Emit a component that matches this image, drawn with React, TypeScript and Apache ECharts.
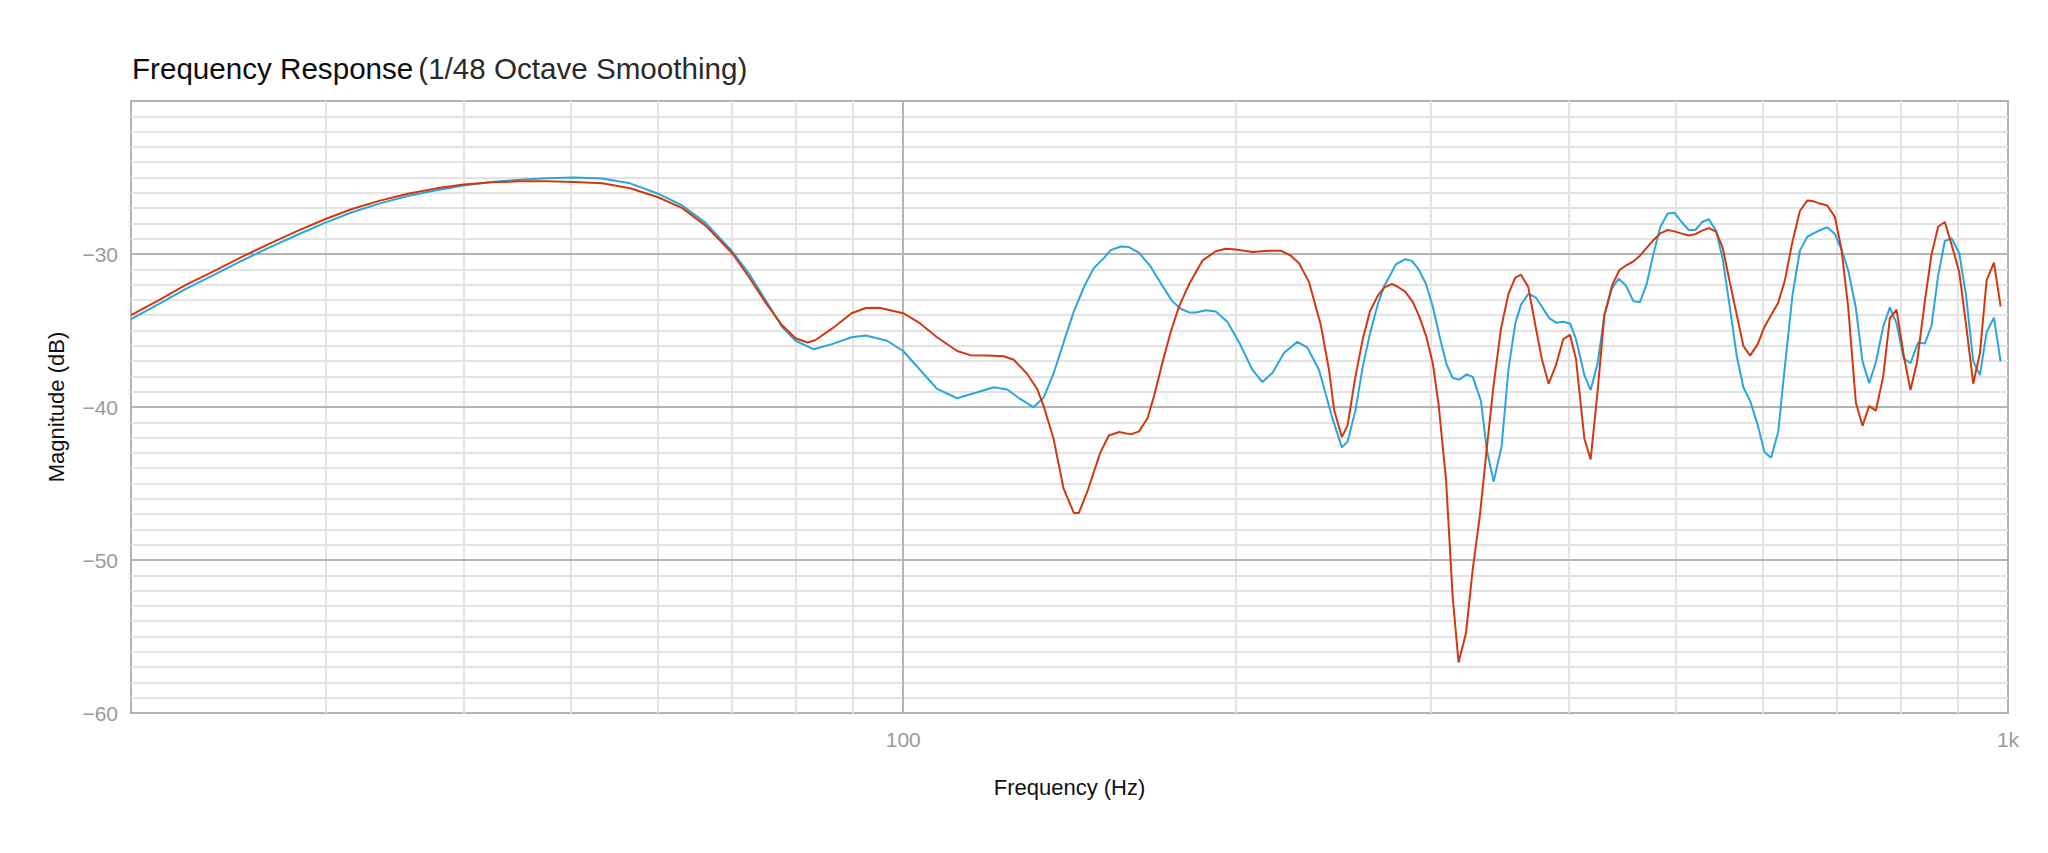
import React, { useEffect, useRef } from "react";
import * as echarts from "echarts";

// Frequency (Hz) / magnitude (dB) readings, red curve
const redFreq = [
  20, 21.2, 22.4, 23.8, 25.2, 26.7, 28.3, 30, 31.7, 33.6, 35.6, 37.8, 40, 42.4, 44.9, 47.6, 50.4, 53.4, 56.6,
  60, 63.1, 66.2, 70, 72.5, 75.1, 77.7, 79.9, 81.9,
  83.3, 86.2, 89.8, 92.5, 95.1, 100, 103.6, 107.3, 111.9, 115, 119.1, 123.3, 125.9, 129.4, 132.2, 134, 136.8,
  139.7, 142.7, 144.2, 146.7, 150.8, 153.5, 156.9, 160.7, 163.5, 166.4, 168.7, 171.6, 174.6, 177.7, 181.5,
  186.6, 191.8, 195.9, 200, 207.1, 214.4, 219.7, 224.3, 228.2, 233, 238.8, 242.9, 245.5, 249.5, 252.5, 256.6,
  260.6, 264.5, 268.8, 272.6, 277, 280.3, 284.8, 289.2, 293.2, 297.3, 301.5, 305.2, 310, 314.3, 318.2, 323.1,
  327.7, 332.7, 337.4, 342.1, 347.6, 353, 358.1, 362.4, 368, 373.4, 378.6, 383.9, 389.9, 395.8, 401.4, 406.4,
  413.6, 419, 425.2, 431.2, 438.1, 444.8, 451.7, 458, 464.4, 470.9, 477.8, 484.5, 492, 498.9, 505.9, 514.1,
  521.2, 528.6, 536, 544.2, 551.8, 559.6, 568.2, 576.1, 584.2, 593.6, 601.9, 610.3, 619.4, 628.1, 638.3,
  648.1, 658.1, 667.2, 676.6, 686.1, 697.1, 706.8, 716.8, 728.3, 738.4, 748.8, 759.2, 770.9, 781.7, 792.7,
  804.9, 816.1, 827.5, 840.9, 852.6, 864.6, 876.7, 890.8, 903.3, 916, 930.1, 943.2, 956.4, 971.1, 984.7,
];
const redDb = [
  -34.0, -33.01, -32.04, -31.1, -30.19, -29.32, -28.49, -27.71, -27.06, -26.51, -26.06, -25.71, -25.46, -25.31,
  -25.25, -25.25, -25.29, -25.37, -25.7,
  -26.29, -27.0, -28.13, -29.93, -31.5, -33.2, -34.66, -35.51, -35.78,
  -35.62, -34.88, -33.87, -33.53, -33.51, -33.87, -34.54, -35.44,
  -36.34, -36.61, -36.64, -36.68, -36.91, -37.81, -38.82, -39.94, -42.08, -45.34, -46.92, -46.92, -45.57,
  -42.98, -41.86, -41.63, -41.79, -41.59, -40.73, -39.27, -37.13, -35.11, -33.42, -31.96, -30.43, -29.82,
  -29.66, -29.71, -29.87, -29.78, -29.78, -30.11, -30.61, -31.84, -34.66, -37.58, -40.2, -41.97, -41.18,
  -38.03, -35.56, -33.76, -32.74, -32.18, -31.96, -32.14, -32.47, -33.13, -34.09, -35.33, -37.13, -39.83,
  -44.78, -52.43, -56.7, -54.79, -50.63, -47.03, -42.76, -38.71, -34.88, -32.63, -31.55, -31.35, -32.18,
  -34.66, -36.91, -38.48, -37.24, -35.56, -35.29, -36.86, -42.08, -43.43, -38.93, -33.98, -32.07, -31.06,
  -30.72, -30.49, -30.11, -29.6, -29.08, -28.65, -28.43, -28.52, -28.65, -28.79, -28.7, -28.47, -28.31,
  -28.54, -29.6, -31.73, -33.98, -36.01, -36.64, -35.89, -34.77, -34.0, -33.19, -31.73, -29.15, -27.19,
  -26.51, -26.56, -26.72, -26.83, -27.57, -29.71, -33.53, -39.72, -41.23, -39.94, -40.24, -38.03, -34.21,
  -33.64, -36.68, -38.89, -37.02, -33.08, -30.04, -28.2, -27.91, -29.6, -31.17, -34.54, -38.48, -36.46,
  -31.73, -30.56, -33.42,
];

// Frequency (Hz) / magnitude (dB) readings, blue curve
const blueFreq = [
  20, 21.2, 22.4, 23.8, 25.2, 26.7, 28.3, 30, 31.7, 33.6, 35.6, 37.8, 40, 42.4, 44.9, 47.6, 50.4, 53.4, 56.6,
  60, 63.1, 66.2, 70, 72.5, 75.1, 77.7, 79.9, 83,
  86.2, 89.8, 92.5, 96.7, 100, 103.6, 107.3, 111.9, 116.7, 120.8, 124.2, 127.7, 131.2, 134, 136.8, 139.7,
  142.7, 145.7, 148.7, 151.9, 154.1, 157.4, 160.1, 163.5, 167.5, 171.6, 175.2, 178.3, 181.5, 184, 187.9,
  191.8, 196.5, 201.4, 207.1, 211.4, 215.9, 221.2, 227.4, 232.2, 237.9, 244.6, 249.5, 252.5, 256.6, 260.6,
  264.5, 268.8, 272.6, 279.3, 284.8, 288.7, 292.8, 297.3, 301.5, 305.7, 310.4, 314.3, 318.7, 323.6, 327.7,
  333.4, 337.4, 342.3, 348.1, 353, 358.1, 362.4, 368.2, 374, 379.2, 384.5, 390.4, 395.8, 401.4, 406.4, 413.6,
  419, 425.2, 431.2, 438.1, 444.2, 451.1, 458, 464.4, 470.9, 477.8, 484.5, 492, 498.9, 505.9, 514.1, 521.2,
  528.6, 536, 544.2, 551.8, 559.6, 568.2, 576.1, 584.2, 593.6, 601.9, 610.3, 619.4, 628.1, 638.3, 648.1,
  658.1, 667.2, 676.6, 686.1, 697.1, 706.8, 716.8, 728.3, 738.4, 748.8, 759.2, 770.9, 781.7, 792.7, 804.9,
  816.1, 829.2, 840.9, 852.6, 864.6, 876.7, 889, 903.3, 916, 930.1, 943.2, 956.4, 971.1, 984.7,
];
const blueDb = [
  -34.25, -33.26, -32.29, -31.35, -30.44, -29.57, -28.74, -27.95, -27.27, -26.69, -26.21, -25.83, -25.53,
  -25.3, -25.15, -25.05, -25.0, -25.06, -25.38,
  -26.06, -26.83, -27.95, -29.82, -31.28, -33.04, -34.77, -35.67, -36.23,
  -35.89, -35.44, -35.33, -35.67, -36.34, -37.58,
  -38.82, -39.43, -39.04, -38.71, -38.86, -39.49, -40.01, -39.38, -37.81, -35.78, -33.76, -32.18, -30.94,
  -30.27, -29.75, -29.51, -29.55, -29.93, -30.83, -32.07, -33.08, -33.58, -33.82, -33.82, -33.67, -33.76,
  -34.43, -35.78, -37.58, -38.37, -37.76, -36.46, -35.74, -36.12, -37.58, -40.73, -42.64, -42.26, -40.24,
  -37.36, -35.22, -33.31, -32.07, -30.67, -30.34, -30.45, -31.01, -31.96, -33.42, -35.33, -37.24, -38.1,
  -38.21, -37.87, -38.03, -39.6, -42.76, -44.89, -42.53, -37.58, -34.54, -33.31, -32.59, -32.86, -33.53,
  -34.21, -34.5, -34.43, -34.54, -35.56, -37.92, -38.89, -37.13, -33.98, -32.25, -31.62, -32.07, -33.08,
  -33.15, -31.96, -29.93, -28.24, -27.35, -27.3, -27.86, -28.43, -28.43, -27.91, -27.73, -28.47, -30.34,
  -33.31, -36.68, -38.71, -39.6, -41.18, -42.94, -43.32, -41.63, -37.36, -32.63, -29.78, -28.88, -28.63,
  -28.43, -28.25, -28.7, -29.71, -31.06, -33.53, -37.02, -38.44, -37.09, -34.77, -33.49, -34.54, -36.86,
  -37.13, -35.78, -35.85, -34.7, -31.4, -29.15, -28.97, -29.93, -32.63, -37.02, -37.92, -35.11, -34.16,
  -37.02,
];

// Axis ticks and grid positions
const xTickValues = [100, 1000];
const xTickLabels = ["100", "1k"];
const xMinorGrid = [30, 40, 50, 60, 70, 80, 90, 200, 300, 400, 500, 600, 700, 800, 900];
const xMajorGrid = [100];
const yMajorGrid = [-30, -40, -50];
const yTickValues = [-60, -50, -40, -30];
const yTickLabels = ["\u221260", "\u221250", "\u221240", "\u221230"];

const FONT = "'Liberation Sans', Arial, Helvetica, sans-serif";
const RED = "#d2380f";
const BLUE = "#2aa5dd";
const MINOR = "#e3e3e3";
const MAJOR = "#b4b4b4";

export default function App() {
  const ref = useRef<HTMLDivElement>(null);

  useEffect(() => {
    const chart = echarts.init(ref.current!, null, { renderer: "svg" });
    const pair = (fs: number[], ds: number[]) => fs.map((f, i) => [f, ds[i]]);

    const gridLines = [
      ...xMinorGrid.map((v) => ({ xAxis: v, lineStyle: { color: MINOR, width: 2, type: "solid" } })),
      ...xMajorGrid.map((v) => ({ xAxis: v, lineStyle: { color: MAJOR, width: 2, type: "solid" } })),
      ...yMajorGrid.map((v) => ({ yAxis: v, lineStyle: { color: MAJOR, width: 2, type: "solid" } })),
    ];

    chart.setOption({
      animation: false,
      backgroundColor: "#ffffff",
      title: {
        text: "{a|Frequency Response} {b|(1/48 Octave Smoothing)}",
        left: 127,
        top: 48,
        textStyle: {
          rich: {
            a: { fontFamily: FONT, fontSize: 29.6, color: "#0d0d0d", fontWeight: "normal" },
            b: { fontFamily: FONT, fontSize: 29.6, color: "#2a2a2a", fontWeight: "normal" },
          },
        },
      },
      grid: {
        left: 131,
        right: 40,
        top: 101,
        bottom: 140,
        show: true,
        borderColor: MAJOR,
        borderWidth: 2,
        backgroundColor: "transparent",
      },
      xAxis: {
        type: "log",
        logBase: 10,
        min: 20,
        max: 1000,
        name: "Frequency (Hz)",
        nameLocation: "middle",
        nameGap: 63,
        nameTextStyle: { fontFamily: FONT, fontSize: 22, color: "#111111" },
        axisLine: { show: false },
        axisTick: { show: false },
        splitLine: { show: false },
        axisLabel: {
          showMinLabel: false,
          interval: 0,
          margin: 16,
          fontFamily: FONT,
          fontSize: 21,
          color: "#9a9a9a",
          formatter: (v: number) => {
            const i = xTickValues.indexOf(Math.round(v));
            return i >= 0 ? xTickLabels[i] : "";
          },
        },
      },
      yAxis: {
        type: "value",
        min: -60,
        max: -20,
        interval: 10,
        name: "Magnitude (dB)",
        nameLocation: "middle",
        nameGap: 64,
        nameTextStyle: { fontFamily: FONT, fontSize: 22, color: "#111111" },
        axisLine: { show: false },
        axisTick: { show: false },
        splitLine: { show: false },
        minorTick: { show: false, splitNumber: 10 },
        minorSplitLine: { show: true, lineStyle: { color: MINOR, width: 2 } },
        axisLabel: {
          showMaxLabel: false,
          margin: 13,
          fontFamily: FONT,
          fontSize: 21,
          color: "#9a9a9a",
          formatter: (v: number) => {
            const i = yTickValues.indexOf(Math.round(v));
            return i >= 0 ? yTickLabels[i] : "";
          },
        },
      },
      series: [
        {
          name: "Blue",
          type: "line",
          data: pair(blueFreq, blueDb),
          showSymbol: false,
          symbol: "none",
          lineStyle: { color: BLUE, width: 2 },
          itemStyle: { color: BLUE },
          z: 3,
          markLine: {
            z: 1,
            silent: true,
            symbol: ["none", "none"],
            label: { show: false },
            emphasis: { disabled: true },
            animation: false,
            data: gridLines,
          },
        },
        {
          name: "Red",
          type: "line",
          data: pair(redFreq, redDb),
          showSymbol: false,
          symbol: "none",
          lineStyle: { color: RED, width: 2 },
          itemStyle: { color: RED },
          z: 4,
        },
      ],
    });
    return () => chart.dispose();
  }, []);

  return (
    <div
      ref={ref}
      style={{ position: "fixed", left: 0, top: 0, width: 2048, height: 853, background: "#ffffff" }}
    />
  );
}
